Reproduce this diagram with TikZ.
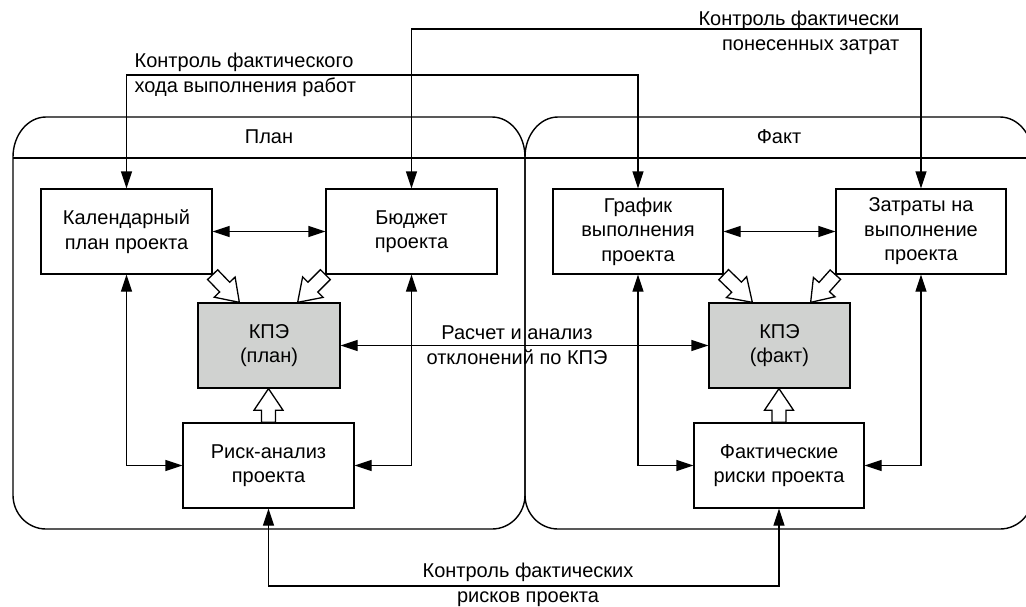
\documentclass[tikz,border=0pt]{standalone}
\usepackage{fontspec}
\setmainfont{Liberation Sans}
\usetikzlibrary{arrows.meta,calc}
\definecolor{kpegray}{RGB}{208,210,208}
\newcommand\fatarr[3]{%
 \draw[fat] ($(#1)!7pt!90:(#2)$) -- ($(#1)!#3!(#2)!7pt!90:(#2)$) -- ($(#1)!#3!(#2)!14.5pt!90:(#2)$) -- (#2) -- ($(#1)!#3!(#2)!14.5pt!-90:(#2)$) -- ($(#1)!#3!(#2)!7pt!-90:(#2)$) -- ($(#1)!7pt!-90:(#2)$) -- cycle;}
\begin{document}
\begin{tikzpicture}[x=1pt,y=-1pt, line width=1.3pt,
 every node/.style={font=\fontsize{20}{24.5}\selectfont, inner sep=0pt},
 box/.style={draw, fill=white, minimum width=171pt, minimum height=85pt, align=center},
 kpebox/.style={draw, fill=kpegray, minimum width=142pt, minimum height=85pt, align=center},
 conn/.style={{Triangle[length=17pt,width=11pt]}-{Triangle[length=17pt,width=11pt]}},
 fat/.style={draw, fill=white, line join=miter},
 container/.style={draw, line width=1.4pt}]
\useasboundingbox (0,0) rectangle (1026,606);
\clip (0,0) rectangle (1026,606);
% containers
\draw[container] (13,157) -- (13,495) arc[start angle=180, end angle=90, x radius=33, y radius=34]
  -- (492,529) arc[start angle=90, end angle=0, x radius=33, y radius=34]
  -- (525,157) arc[start angle=0, end angle=-90, x radius=33, y radius=40]
  -- (46,117) arc[start angle=270, end angle=180, x radius=33, y radius=40] -- cycle;
\draw[container] (525,157) -- (525,495) arc[start angle=180, end angle=90, x radius=33, y radius=34]
  -- (1000,529) arc[start angle=90, end angle=0, x radius=33, y radius=34]
  -- (1033,157) arc[start angle=0, end angle=-90, x radius=33, y radius=40]
  -- (558,117) arc[start angle=270, end angle=180, x radius=33, y radius=40] -- cycle;
\draw[line width=1.8pt] (13,158) -- (1033,158);
\node (plan) at (269,137) {План};
\node (fact) at (779,137) {Факт};
% boxes
\node[box] (cal) at (126.5,231.5) {Календарный\\план проекта};
\node[box] (bud) at (411.5,231.5) {Бюджет\\проекта};
\node[box, minimum width=170pt] (graf) at (638,231.5) {График\\выполнения\\проекта};
\node[box, minimum width=170pt] (zat) at (921,231.5) {Затраты на\\выполнение\\проекта};
\node[kpebox] (kpe) at (269,345.5) {КПЭ\\(план)};
\node[kpebox, minimum width=141pt] (kpef) at (779.5,345.5) {КПЭ\\(факт)};
\node[box] (risk) at (268.5,465.5) {Риск-анализ\\проекта};
\node[box, minimum width=170pt] (frisk) at (779,465.5) {Фактические\\риски проекта};
% labels
\node[anchor=west, align=left] (l1) at (134,75) {Контроль фактического\\хода выполнения работ};
\node[anchor=east, align=right] (l2) at (900,33) {Контроль фактически\\понесенных затрат};
\node[align=center] (l3) at (517,345) {Расчет и анализ\\отклонений по КПЭ};
\node[align=center] (l4) at (528,585) {Контроль фактических\\рисков проекта};
% levels
\coordinate (y1) at (0,75);
\coordinate (y2) at (0,29);
\coordinate (y3) at (0,586);
% connectors
\draw[conn] (cal.north) -- (cal.north |- y1) -| (graf.north);
\draw[conn] (bud.north) -- (bud.north |- y2) -| (zat.north);
\draw[conn] (cal.south) |- (risk.west);
\draw[conn] (bud.south) |- (risk.east);
\draw[conn] (graf.south) |- (frisk.west);
\draw[conn] (zat.south) |- (frisk.east);
\draw[conn] (cal.east) -- (bud.west);
\draw[conn] (graf.east) -- (zat.west);
\draw[conn] (kpe.east) -- (kpef.west);
\draw[conn] (risk.south) -- (risk.south |- y3) -| (frisk.south);
% fat arrows
\coordinate (t1) at ([xshift=42pt]kpe.north west);
\coordinate (t2) at ([xshift=-43pt]kpe.north east);
\coordinate (t3) at ([xshift=44pt]kpef.north west);
\coordinate (t4) at ([xshift=-40pt]kpef.north east);
\coordinate (t5) at (risk.north |- kpe.south);
\coordinate (t6) at (frisk.north |- kpef.south);
\fatarr{cal.south east}{t1}{0.45}
\fatarr{bud.south west}{t2}{0.45}
\fatarr{graf.south east}{t3}{0.45}
\fatarr{zat.south west}{t4}{0.45}
\fatarr{risk.north}{t5}{0.36}
\fatarr{frisk.north}{t6}{0.36}
\end{tikzpicture}
\end{document}
